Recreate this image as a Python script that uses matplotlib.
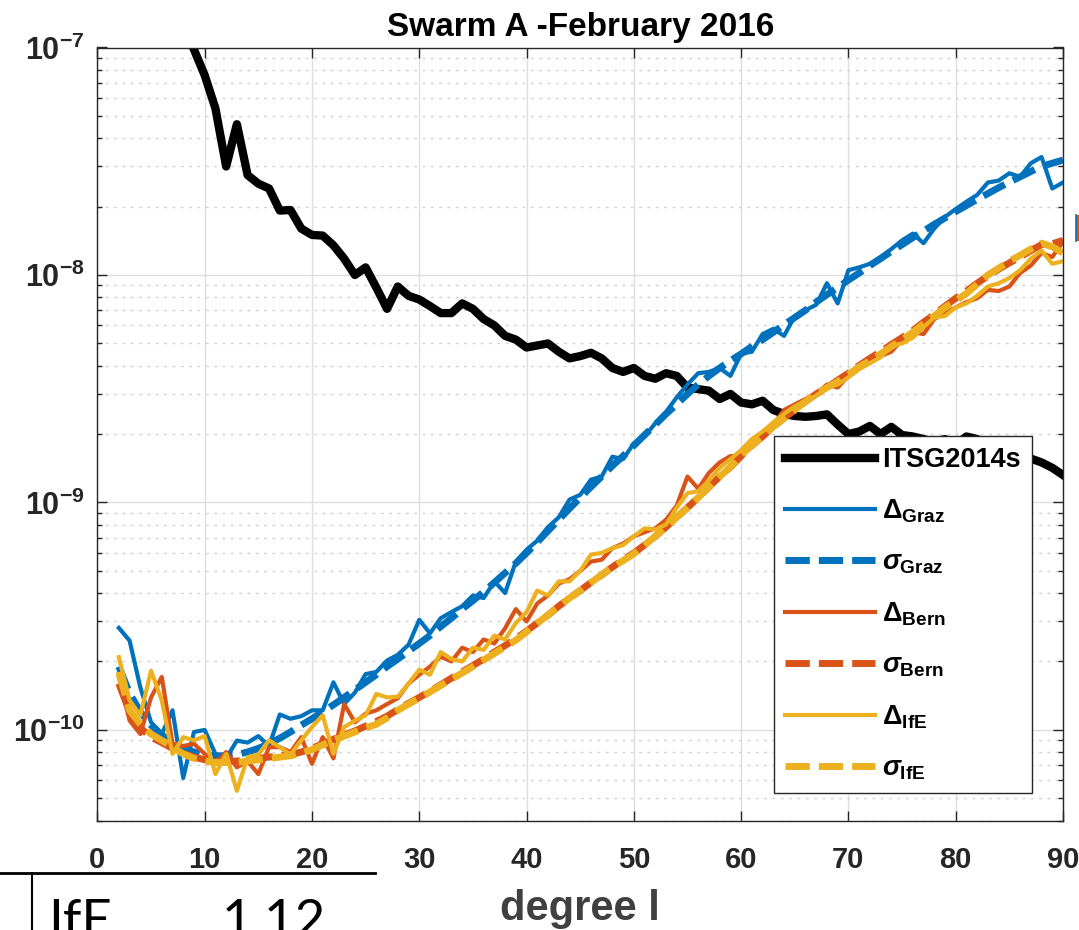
import matplotlib
matplotlib.use("Agg")
import matplotlib.pyplot as plt
from matplotlib.lines import Line2D
from matplotlib.patches import Rectangle
from matplotlib.ticker import LogLocator, NullFormatter
import numpy as np

# degree amplitudes per degree l (2 ... 90)
degrees = list(range(2, 91))

itsg2014s = [6.0e-7, 4.5e-7, 3.5e-7, 2.6e-7, 2.0e-7, 1.6e-7, 1.3e-7, 9.8e-8, 7.55e-8, 5.4e-8,
             3.0e-8, 4.6e-8, 2.75e-8, 2.52e-8, 2.4e-8, 1.92e-8, 1.93e-8, 1.6e-8, 1.5e-8, 1.49e-8,
             1.35e-8, 1.18e-8, 1.0e-8, 1.08e-8, 8.8e-9, 7.1e-9, 8.9e-9, 8.1e-9, 7.8e-9, 7.3e-9,
             6.8e-9, 6.8e-9, 7.5e-9, 7.1e-9, 6.4e-9, 6.0e-9, 5.4e-9, 5.2e-9, 4.8e-9, 4.9e-9,
             5.0e-9, 4.6e-9, 4.3e-9, 4.4e-9, 4.55e-9, 4.3e-9, 3.9e-9, 3.75e-9, 3.9e-9, 3.6e-9,
             3.5e-9, 3.7e-9, 3.6e-9, 3.2e-9, 3.15e-9, 3.1e-9, 2.85e-9, 3.0e-9, 2.75e-9, 2.7e-9,
             2.8e-9, 2.55e-9, 2.45e-9, 2.4e-9, 2.38e-9, 2.4e-9, 2.44e-9, 2.2e-9, 2.0e-9, 2.05e-9,
             2.17e-9, 2.0e-9, 2.15e-9, 1.98e-9, 1.95e-9, 1.9e-9, 1.85e-9, 1.9e-9, 1.8e-9, 1.95e-9,
             1.9e-9, 1.8e-9, 1.75e-9, 1.7e-9, 1.6e-9, 1.56e-9, 1.5e-9, 1.42e-9, 1.32e-9]

delta_graz = [2.81e-10, 2.47e-10, 1.54e-10, 1.08e-10, 9.6e-11, 1.22e-10, 6.15e-11, 9.8e-11, 1.0e-10, 7.85e-11,
              7.5e-11, 8.98e-11, 8.8e-11, 9.4e-11, 8.5e-11, 1.17e-10, 1.12e-10, 1.15e-10, 1.22e-10, 1.22e-10,
              1.62e-10, 1.30e-10, 1.46e-10, 1.76e-10, 1.80e-10, 2.02e-10, 2.14e-10, 2.37e-10, 3.05e-10, 2.66e-10,
              3.1e-10, 3.3e-10, 3.5e-10, 3.9e-10, 3.8e-10, 4.5e-10, 4.0e-10, 5.5e-10, 6.2e-10, 6.8e-10,
              7.8e-10, 8.6e-10, 1.03e-9, 1.08e-9, 1.26e-9, 1.3e-9, 1.59e-9, 1.55e-9, 1.82e-9, 1.95e-9,
              2.23e-9, 2.5e-9, 2.9e-9, 3.3e-9, 3.7e-9, 3.75e-9, 3.9e-9, 3.6e-9, 4.5e-9, 4.6e-9,
              5.5e-9, 5.8e-9, 5.4e-9, 6.6e-9, 7.0e-9, 7.4e-9, 9.2e-9, 7.5e-9, 1.05e-8, 1.08e-8,
              1.12e-8, 1.2e-8, 1.3e-8, 1.42e-8, 1.52e-8, 1.38e-8, 1.6e-8, 1.8e-8, 1.95e-8, 2.1e-8,
              2.25e-8, 2.55e-8, 2.6e-8, 2.8e-8, 2.7e-8, 3.1e-8, 3.3e-8, 2.4e-8, 2.55e-8]

sigma_graz = [1.9e-10, 1.45e-10, 1.2e-10, 1.05e-10, 9.5e-11, 8.8e-11, 8.3e-11, 8.0e-11, 7.8e-11, 7.7e-11,
              7.7e-11, 7.8e-11, 8.0e-11, 8.3e-11, 8.7e-11, 9.2e-11, 9.8e-11, 1.05e-10, 1.12e-10, 1.2e-10,
              1.29e-10, 1.39e-10, 1.5e-10, 1.62e-10, 1.75e-10, 1.9e-10, 2.05e-10, 2.22e-10, 2.4e-10, 2.6e-10,
              2.85e-10, 3.1e-10, 3.4e-10, 3.7e-10, 4.05e-10, 4.45e-10, 4.9e-10, 5.4e-10, 6.0e-10, 6.7e-10,
              7.5e-10, 8.4e-10, 9.4e-10, 1.05e-9, 1.17e-9, 1.3e-9, 1.45e-9, 1.6e-9, 1.78e-9, 1.98e-9,
              2.2e-9, 2.45e-9, 2.7e-9, 3.0e-9, 3.3e-9, 3.6e-9, 3.9e-9, 4.2e-9, 4.5e-9, 4.85e-9,
              5.2e-9, 5.6e-9, 6.05e-9, 6.5e-9, 7.0e-9, 7.6e-9, 8.2e-9, 8.8e-9, 9.5e-9, 1.02e-8,
              1.1e-8, 1.18e-8, 1.27e-8, 1.36e-8, 1.46e-8, 1.56e-8, 1.67e-8, 1.78e-8, 1.9e-8, 2.02e-8,
              2.15e-8, 2.28e-8, 2.42e-8, 2.56e-8, 2.7e-8, 2.85e-8, 3.0e-8, 3.1e-8, 3.2e-8]

delta_bern = [1.71e-10, 1.1e-10, 9.6e-11, 1.39e-10, 1.71e-10, 8.7e-11, 8.5e-11, 8.7e-11, 7.85e-11, 7.1e-11,
              8.0e-11, 6.85e-11, 7.3e-11, 6.4e-11, 8.4e-11, 8.4e-11, 8.0e-11, 9.3e-11, 7.1e-11, 9.3e-11,
              7.5e-11, 1.30e-10, 1.08e-10, 1.18e-10, 1.22e-10, 1.30e-10, 1.38e-10, 1.6e-10, 1.75e-10, 1.9e-10,
              2.1e-10, 2.0e-10, 2.3e-10, 2.2e-10, 2.5e-10, 2.4e-10, 2.8e-10, 3.4e-10, 3.0e-10, 3.6e-10,
              3.9e-10, 4.4e-10, 4.6e-10, 5.0e-10, 5.5e-10, 5.6e-10, 6.3e-10, 6.6e-10, 7.1e-10, 7.4e-10,
              7.7e-10, 8.4e-10, 9.7e-10, 1.3e-9, 1.15e-9, 1.35e-9, 1.5e-9, 1.6e-9, 1.6e-9, 1.85e-9,
              2.0e-9, 2.2e-9, 2.55e-9, 2.7e-9, 2.85e-9, 3.0e-9, 3.3e-9, 3.2e-9, 3.6e-9, 3.9e-9,
              4.1e-9, 4.4e-9, 4.6e-9, 5.2e-9, 5.6e-9, 5.5e-9, 6.4e-9, 6.8e-9, 7.2e-9, 7.6e-9,
              7.9e-9, 8.6e-9, 8.5e-9, 8.9e-9, 1.02e-8, 1.1e-8, 1.25e-8, 1.2e-8, 1.4e-8]

sigma_bern = [1.6e-10, 1.2e-10, 1.02e-10, 9.3e-11, 8.8e-11, 8.3e-11, 7.9e-11, 7.6e-11, 7.4e-11, 7.3e-11,
              7.3e-11, 7.3e-11, 7.4e-11, 7.5e-11, 7.6e-11, 7.7e-11, 7.8e-11, 8.0e-11, 8.3e-11, 8.7e-11,
              9.1e-11, 9.5e-11, 9.9e-11, 1.04e-10, 1.09e-10, 1.15e-10, 1.23e-10, 1.31e-10, 1.39e-10, 1.48e-10,
              1.58e-10, 1.69e-10, 1.8e-10, 1.92e-10, 2.05e-10, 2.2e-10, 2.35e-10, 2.52e-10, 2.72e-10, 2.95e-10,
              3.2e-10, 3.5e-10, 3.8e-10, 4.1e-10, 4.45e-10, 4.8e-10, 5.2e-10, 5.6e-10, 6.0e-10, 6.5e-10,
              7.1e-10, 7.8e-10, 8.6e-10, 9.5e-10, 1.05e-9, 1.17e-9, 1.3e-9, 1.43e-9, 1.6e-9, 1.78e-9,
              1.95e-9, 2.15e-9, 2.35e-9, 2.55e-9, 2.78e-9, 3.0e-9, 3.2e-9, 3.45e-9, 3.7e-9, 4.0e-9,
              4.3e-9, 4.6e-9, 4.95e-9, 5.3e-9, 5.7e-9, 6.2e-9, 6.7e-9, 7.3e-9, 7.9e-9, 8.5e-9,
              9.2e-9, 9.9e-9, 1.06e-8, 1.13e-8, 1.2e-8, 1.28e-8, 1.36e-8, 1.37e-8, 1.42e-8]

delta_ife = [2.09e-10, 1.35e-10, 1.16e-10, 1.82e-10, 1.35e-10, 7.85e-11, 9.3e-11, 9.0e-11, 9.4e-11, 6.4e-11,
             7.85e-11, 5.4e-11, 7.6e-11, 7.8e-11, 9.0e-11, 8.4e-11, 7.8e-11, 9.0e-11, 1.03e-10, 1.16e-10,
             7.85e-11, 1.03e-10, 1.1e-10, 1.16e-10, 1.44e-10, 1.39e-10, 1.40e-10, 1.6e-10, 1.84e-10, 1.75e-10,
             2.2e-10, 2.05e-10, 2.0e-10, 2.3e-10, 2.25e-10, 2.6e-10, 2.5e-10, 2.95e-10, 3.3e-10, 4.1e-10,
             3.9e-10, 4.5e-10, 4.5e-10, 5.0e-10, 5.9e-10, 6.0e-10, 6.3e-10, 6.5e-10, 7.1e-10, 7.7e-10,
             7.6e-10, 8.0e-10, 9.5e-10, 1.1e-9, 1.12e-9, 1.25e-9, 1.42e-9, 1.55e-9, 1.7e-9, 1.9e-9,
             2.05e-9, 2.25e-9, 2.45e-9, 2.65e-9, 2.8e-9, 2.95e-9, 3.2e-9, 3.3e-9, 3.55e-9, 3.85e-9,
             4.1e-9, 4.35e-9, 4.9e-9, 5.0e-9, 5.3e-9, 5.9e-9, 6.5e-9, 6.6e-9, 7.2e-9, 7.5e-9,
             8.1e-9, 8.9e-9, 9.2e-9, 9.7e-9, 1.05e-8, 1.18e-8, 1.28e-8, 1.12e-8, 1.15e-8]

sigma_ife = [1.8e-10, 1.22e-10, 1.06e-10, 9.6e-11, 9.0e-11, 8.4e-11, 7.85e-11, 7.5e-11, 7.3e-11, 7.2e-11,
             7.2e-11, 7.2e-11, 7.3e-11, 7.4e-11, 7.5e-11, 7.6e-11, 7.7e-11, 7.9e-11, 8.2e-11, 8.6e-11,
             9.0e-11, 9.4e-11, 9.8e-11, 1.02e-10, 1.06e-10, 1.13e-10, 1.22e-10, 1.30e-10, 1.38e-10, 1.47e-10,
             1.57e-10, 1.67e-10, 1.78e-10, 1.9e-10, 2.03e-10, 2.17e-10, 2.32e-10, 2.48e-10, 2.7e-10, 2.95e-10,
             3.2e-10, 3.5e-10, 3.8e-10, 4.1e-10, 4.45e-10, 4.8e-10, 5.2e-10, 5.55e-10, 5.95e-10, 6.5e-10,
             7.1e-10, 7.8e-10, 8.6e-10, 9.5e-10, 1.05e-9, 1.17e-9, 1.3e-9, 1.43e-9, 1.62e-9, 1.78e-9,
             1.95e-9, 2.15e-9, 2.35e-9, 2.55e-9, 2.78e-9, 3.0e-9, 3.2e-9, 3.4e-9, 3.65e-9, 3.95e-9,
             4.2e-9, 4.5e-9, 4.85e-9, 5.2e-9, 5.6e-9, 6.1e-9, 6.6e-9, 7.2e-9, 7.7e-9, 8.3e-9,
             9.1e-9, 1.0e-8, 1.07e-8, 1.15e-8, 1.22e-8, 1.3e-8, 1.38e-8, 1.33e-8, 1.25e-8]

x_ticks = [0, 10, 20, 30, 40, 50, 60, 70, 80, 90]
y_ticks = [1e-10, 1e-9, 1e-8, 1e-7]

# matlab default colours
c_blue = "#0072BD"
c_orange = "#D95319"
c_yellow = "#EDB120"

# fonts: helvetica-like, everything bold like the matlab figure
plt.rcParams["font.family"] = ["Liberation Sans", "DejaVu Sans"]
plt.rcParams["font.weight"] = "bold"
plt.rcParams["mathtext.fontset"] = "custom"
plt.rcParams["mathtext.rm"] = "Liberation Sans:bold"
plt.rcParams["mathtext.bf"] = "Liberation Sans:bold"
plt.rcParams["mathtext.it"] = "Liberation Sans:bold:italic"

fig = plt.figure(figsize=(10.79, 9.30), dpi=100)
ax = fig.add_axes([97.4 / 1079, 1 - 820.5 / 930, (1063 - 97.4) / 1079, (820.5 - 47.5) / 930])

solid_lw = 3
dash_lw = 5
dash_pat = (3.5, 1.3)

ax.plot(degrees, itsg2014s, color="black", lw=6, label="ITSG2014s")
ax.plot(degrees, delta_graz, color=c_blue, lw=solid_lw, label=r"$\Delta_{\mathrm{Graz}}$")
ax.plot(degrees, sigma_graz, color=c_blue, lw=dash_lw, dashes=dash_pat, label=r"$\sigma_{\mathrm{Graz}}$")
ax.plot(degrees, delta_bern, color=c_orange, lw=solid_lw, label=r"$\Delta_{\mathrm{Bern}}$")
ax.plot(degrees, sigma_bern, color=c_orange, lw=dash_lw, dashes=dash_pat, label=r"$\sigma_{\mathrm{Bern}}$")
ax.plot(degrees, delta_ife, color=c_yellow, lw=solid_lw, label=r"$\Delta_{\mathrm{IfE}}$")
ax.plot(degrees, sigma_ife, color=c_yellow, lw=dash_lw, dashes=dash_pat, label=r"$\sigma_{\mathrm{IfE}}$")

ax.set_yscale("log")
ax.set_xlim(0, 90)
ax.set_ylim(4e-11, 1e-7)
ax.set_xticks(x_ticks)
ax.set_yticks(y_ticks)
ax.yaxis.set_minor_locator(LogLocator(base=10, subs=np.arange(2, 10)))
ax.yaxis.set_minor_formatter(NullFormatter())

# matlab look: ticks inside on all four sides, grey frame
ax.tick_params(which="both", direction="in", top=True, right=True, color="#262626", labelcolor="#262626")
ax.tick_params(which="major", length=7, width=1)
ax.tick_params(which="minor", length=3.5, width=1)
ax.tick_params(axis="x", pad=18, labelsize=21)
ax.tick_params(axis="y", pad=9, labelsize=22)
for s in ax.spines.values():
    s.set_color("#262626")
    s.set_linewidth(1)

ax.grid(which="major", color="#dedede", lw=1, ls="-")
ax.grid(which="minor", axis="y", color="#d2d2d2", lw=1, ls=(0, (2, 4)))
ax.set_axisbelow(True)

ax.set_title("Swarm A -February 2016", fontsize=24, fontweight="bold", pad=8)
ax.set_xlabel("degree l", fontsize=30, fontweight="bold", color="#404040", labelpad=11)

leg = ax.legend(loc="upper left", bbox_to_anchor=(0.7007, 0.4974), borderaxespad=0,
                fontsize=19.5, handlelength=3.3, handletextpad=0.27, labelspacing=0.9,
                borderpad=0.42, fancybox=False, framealpha=1, edgecolor="#262626")
leg.get_frame().set_linewidth(1)

# piece of a table that sits below the figure in the source page
fig.add_artist(Line2D([0, 375 / 1079], [1 - 873 / 930, 1 - 873 / 930], color="black", lw=2))
fig.add_artist(Line2D([32 / 1079, 32 / 1079], [1 - 873 / 930, 0], color="black", lw=1.5))
fig.text(48 / 1079, -7 / 930, "IfE", fontsize=38, family="Lato", fontweight="normal", va="baseline")
fig.text(222 / 1079, -7 / 930, "1.12", fontsize=38, family="Lato", fontweight="normal", va="baseline")

# sliver of the neighbouring panel at the right edge
fig.add_artist(Rectangle((1076 / 1079, 1 - 241 / 930), 3 / 1079, 26 / 930,
                         facecolor=c_orange, edgecolor="none"))
fig.add_artist(Line2D([1076 / 1079, 1076 / 1079], [1 - 241 / 930, 1 - 215 / 930], color=c_blue, lw=1.2))

fig.savefig("out.png", dpi=100)
